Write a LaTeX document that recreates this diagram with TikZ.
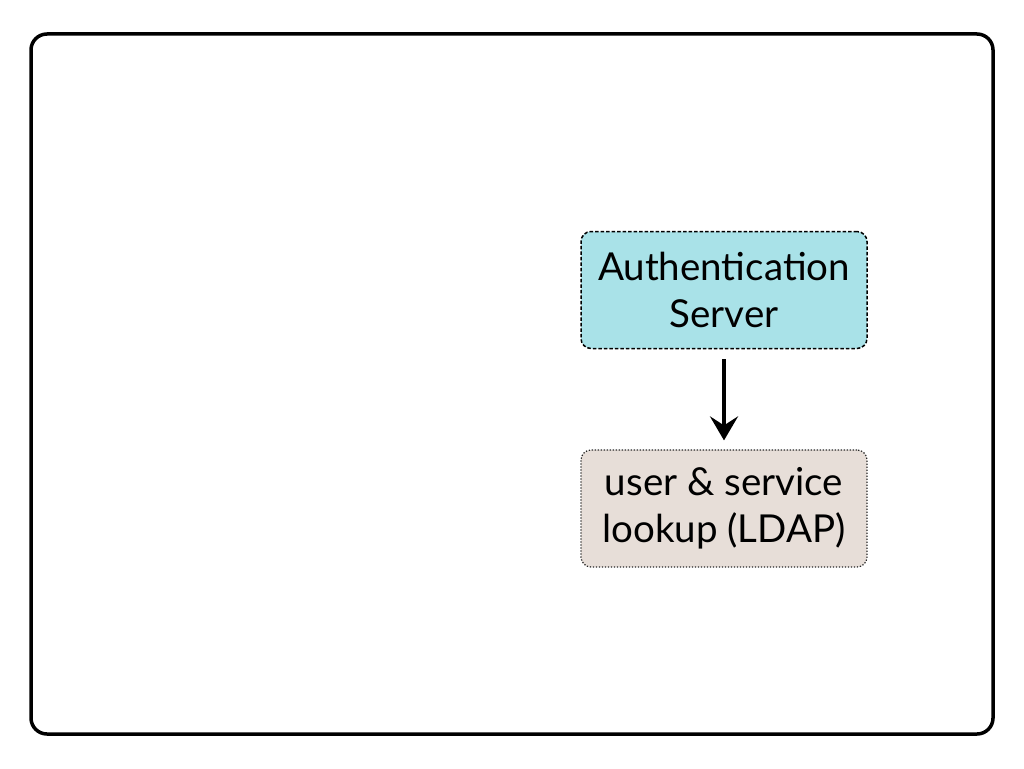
\documentclass[tikz,border=0pt]{standalone}
\usepackage{fontspec}
\setmainfont{Lato}
\usetikzlibrary{arrows.meta}
\definecolor{authfill}{HTML}{A9E2E8}
\definecolor{ldapfill}{HTML}{E7DED8}
\tikzset{
  frame/.style={draw=black, line width=3.5pt, rounded corners=16pt},
  boxbase/.style={rounded corners=10pt, minimum width=286pt, minimum height=117pt, align=center, font=\fontsize{38.5}{47}\selectfont, text=black, inner sep=0pt},
  authbox/.style={boxbase, fill=authfill, draw=black, line width=1.5pt, dash pattern=on 3.5pt off 2pt},
  ldapbox/.style={boxbase, fill=ldapfill, draw=black!85, line width=1.2pt, dash pattern=on 1.3pt off 1.7pt},
  flow/.style={draw=black, line width=4.5pt, -{Stealth[length=24pt,width=28pt,inset=9pt]}}
}
\begin{document}
\begin{tikzpicture}[x=1pt,y=-1pt]
\useasboundingbox (0,0) rectangle (1024,768);
\draw[frame] (31,34) rectangle (993,734);
\node[authbox] (auth) at (724,290) {Authentication\\Server};
\node[ldapbox] (ldap) at (724,508.5) {user \& service\\lookup (LDAP)};
\draw[flow] ([yshift=-10pt]auth.south) -- ([yshift=9pt]ldap.north);
\end{tikzpicture}
\end{document}
